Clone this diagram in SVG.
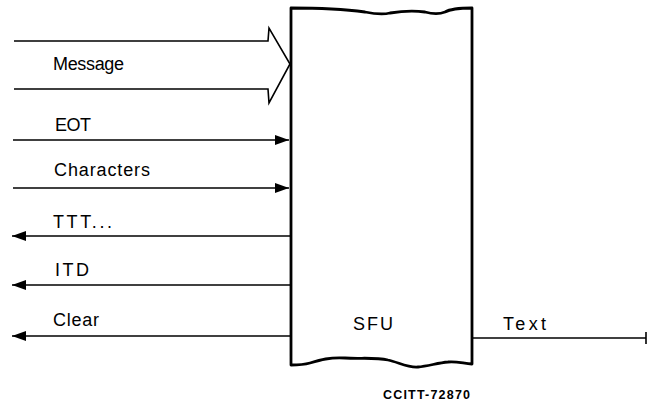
<svg xmlns="http://www.w3.org/2000/svg" width="648" height="405" viewBox="0 0 648 405">
<defs>
<style>
.lbl{font-family:"Liberation Sans",Arial,sans-serif;font-size:18px;fill:#000}
.code{font-family:"Liberation Sans",Arial,sans-serif;font-size:12.5px;font-weight:bold;fill:#000}
.ln{stroke:#000;stroke-width:1.6;fill:none}
.box{stroke:#000;stroke-width:2.8;fill:#fff;stroke-linejoin:round}
</style>
<marker id="ah" viewBox="0 0 14 10" refX="14" refY="5" markerWidth="14" markerHeight="10" markerUnits="userSpaceOnUse" orient="auto">
<path d="M0,0 L14,5 L0,10 Z" fill="#000"/>
</marker>
</defs>
<rect width="648" height="405" fill="#fff"/>
<g id="connectors">
<path class="ln" d="M14,41 L268,41 L269,28 L290,64 L269,103 L268,89 L14,89" stroke-linejoin="miter"/>
<line class="ln" x1="13" y1="140" x2="289" y2="140" marker-end="url(#ah)"/>
<line class="ln" x1="13" y1="188" x2="289" y2="188" marker-end="url(#ah)"/>
<line class="ln" x1="290" y1="236" x2="12" y2="236" marker-end="url(#ah)"/>
<line class="ln" x1="290" y1="285" x2="12" y2="285" marker-end="url(#ah)"/>
<line class="ln" x1="290" y1="336" x2="12" y2="336" marker-end="url(#ah)"/>
<line class="ln" x1="472" y1="338" x2="646" y2="338"/>
<line class="ln" x1="646" y1="332" x2="646" y2="344"/>
</g>
<g id="sfu">
<path class="box" d="M291,8 C320,8 350,10 365,12 C375,14 382,15 390,13 C402,11 412,10 425,12 C432,14 438,15 445,12 C450,9 458,8 472,8 L472,364 C462,363 455,361 448,362 C438,363 428,366 418,367 C408,368 398,362 388,360 C375,357 360,359 345,358 C330,357 320,360 310,363 C303,365 296,365 291,365 Z"/>
<text class="lbl" x="353" y="330" textLength="40" lengthAdjust="spacing">SFU</text>
</g>
<g id="labels">
<text class="lbl" x="53" y="70" textLength="71" lengthAdjust="spacing">Message</text>
<text class="lbl" x="55" y="131" textLength="36" lengthAdjust="spacing">EOT</text>
<text class="lbl" x="54" y="176" textLength="96" lengthAdjust="spacing">Characters</text>
<text class="lbl" x="53" y="228" textLength="59" lengthAdjust="spacing">TTT...</text>
<text class="lbl" x="55" y="276" textLength="34" lengthAdjust="spacing">ITD</text>
<text class="lbl" x="53" y="326" textLength="46" lengthAdjust="spacing">Clear</text>
<text class="lbl" x="503" y="330" textLength="43" lengthAdjust="spacing">Text</text>
<text class="code" x="383" y="399" textLength="87" lengthAdjust="spacing">CCITT-72870</text>
</g>
</svg>
